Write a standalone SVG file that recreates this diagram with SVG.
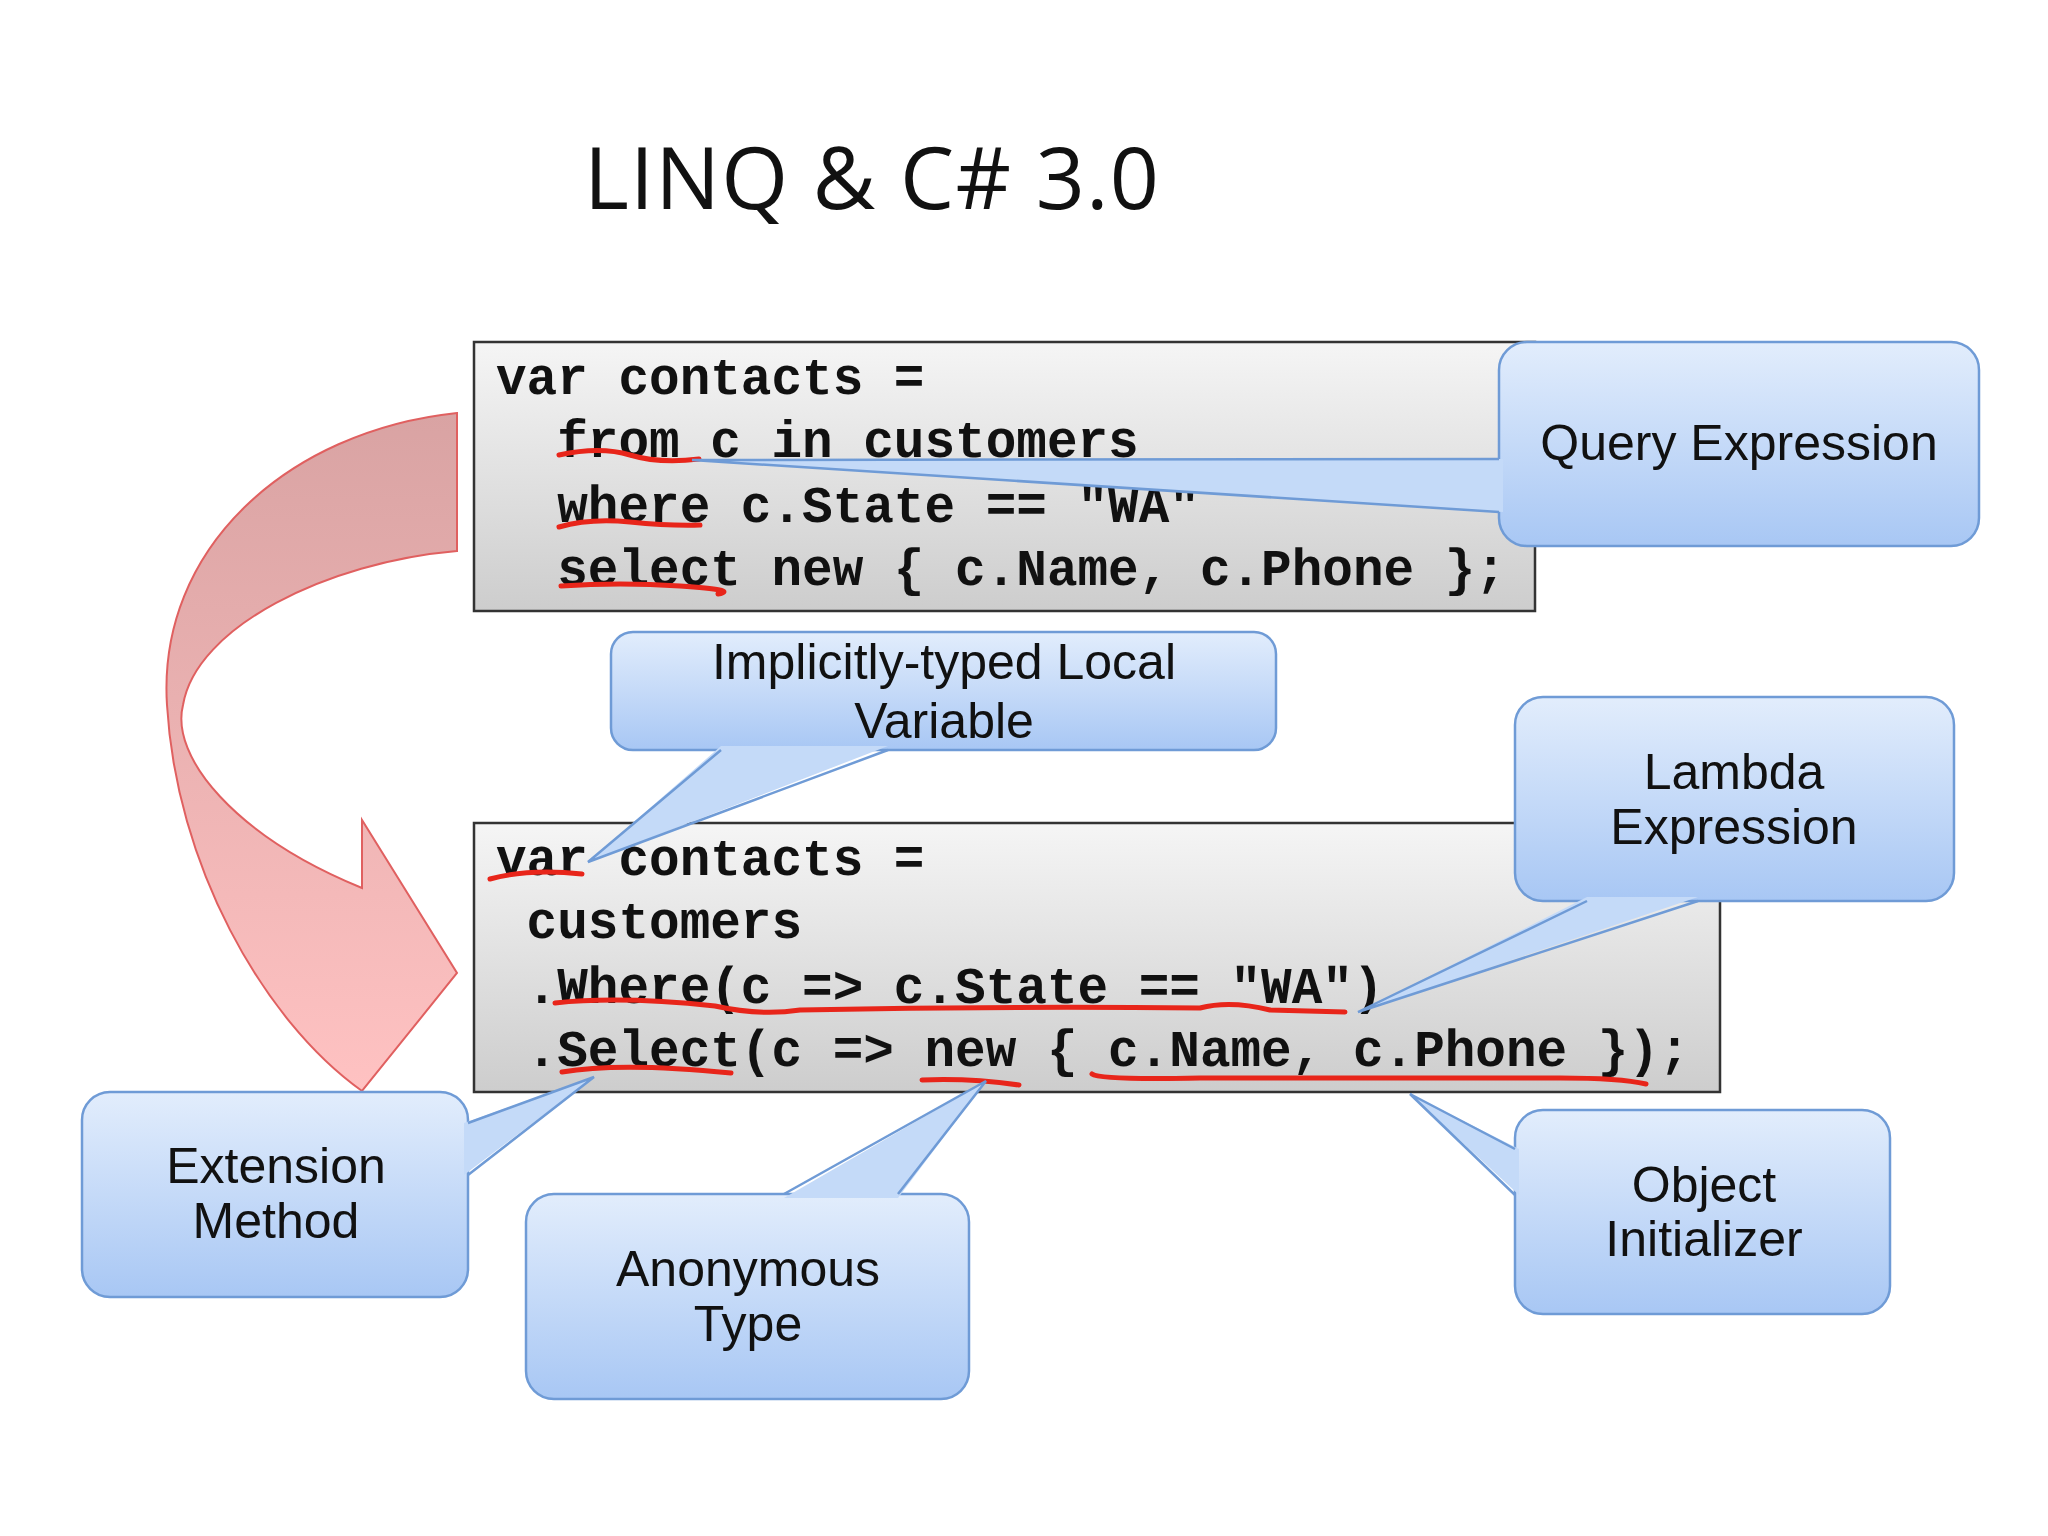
<svg xmlns="http://www.w3.org/2000/svg" width="2048" height="1536" viewBox="0 0 2048 1536">
<style>
.code{font-family:"Liberation Mono","Courier New",monospace;font-weight:bold;font-size:51px;fill:#111;white-space:pre}
.box{stroke:#333;stroke-width:2.5;fill:url(#gg)}
.co{fill:url(#bg);stroke:#6f9bd6;stroke-width:2.5}
.wf{fill:#c4daf8}
.ws{fill:none;stroke:#6f9bd6;stroke-width:2.5}
.lbl{font-family:"Liberation Sans",Arial,sans-serif;font-size:50px;fill:#111;text-anchor:middle}
.ul{fill:none;stroke:#e8251a;stroke-width:5;stroke-linecap:round}
</style>
<defs>
<linearGradient id="gg" x1="0" y1="0" x2="0" y2="1"><stop offset="0" stop-color="#f5f5f5"/><stop offset="1" stop-color="#cdcdcd"/></linearGradient>
<linearGradient id="bg" x1="0" y1="0" x2="0" y2="1"><stop offset="0" stop-color="#e2edfc"/><stop offset="1" stop-color="#a8c7f4"/></linearGradient>
<linearGradient id="rg" x1="0" y1="0" x2="0" y2="1"><stop offset="0" stop-color="#d9a3a3"/><stop offset="1" stop-color="#ffc2c2"/></linearGradient>
</defs>
<rect width="2048" height="1536" fill="#fff"/>
<text x="584" y="209" font-family="Open Sans,Liberation Sans,sans-serif" font-size="86" textLength="575" fill="#111">LINQ &amp; C# 3.0</text>

<g id="arrow">
<path d="M457,413 C287,431 157,549 167,705 C176,862 261,1019 362,1091 L362,1091 L457,973 L362,820 L362,888 C235,836 170,757 183,705 C196,627 327,562 457,551 Z" fill="url(#rg)" stroke="#e06060" stroke-width="2"/>
</g>

<g id="code1">
<rect class="box" x="474" y="342" width="1061" height="269"/>
<text class="code" x="496" y="394">var contacts =</text>
<text class="code" x="496" y="457">  from c in customers</text>
<text class="code" x="496" y="522">  where c.State == "WA"</text>
<text class="code" x="496" y="585">  select new { c.Name, c.Phone };</text>
<path class="ul" d="M559,455 Q600,446 630,455 T699,459"/>
<path class="ul" d="M559,527 Q590,518 630,522 T700,525"/>
<path class="ul" d="M561,586 Q620,582 680,586 T718,594"/>
</g>

<g id="code2">
<rect class="box" x="474" y="823" width="1246" height="269"/>
<text class="code" x="496" y="875">var contacts =</text>
<text class="code" x="496" y="938"> customers</text>
<text class="code" x="496" y="1003"> .Where(c =&gt; c.State == "WA")</text>
<text class="code" x="496" y="1066"> .Select(c =&gt; new { c.Name, c.Phone });</text>
<path class="ul" d="M490,879 Q530,868 582,874"/>
<path class="ul" d="M555,1003 Q620,996 715,1006 Q760,1016 800,1010 Q1000,1006 1200,1008 Q1230,1000 1270,1010 L1345,1012"/>
<path class="ul" d="M562,1072 Q620,1062 731,1073"/>
<path class="ul" d="M922,1080 Q970,1078 1019,1085"/>
<path class="ul" d="M1092,1074 Q1100,1080 1200,1078 L1560,1078 Q1620,1078 1646,1084"/>
</g>

<g id="c-query">
<rect class="co" x="1499" y="342" width="480" height="204" rx="28"/>
<polygon class="wf" points="1503,459 692,460 1503,512"/>
<polyline class="ws" points="1499,459 692,460 1499,512"/>
<text class="lbl" x="1739" y="460">Query Expression</text>
</g>
<g id="c-implicit">
<rect class="co" x="611" y="632" width="665" height="118" rx="22"/>
<polygon class="wf" points="721,746 588,862 888,746"/>
<polyline class="ws" points="721,750 588,862 888,750"/>
<text class="lbl" x="944" y="679">Implicitly-typed Local</text>
<text class="lbl" x="944" y="738">Variable</text>
</g>
<g id="c-lambda">
<rect class="co" x="1515" y="697" width="439" height="204" rx="28"/>
<polygon class="wf" points="1587,897 1358,1012 1698,897"/>
<polyline class="ws" points="1587,901 1358,1012 1698,901"/>
<text class="lbl" x="1734" y="789">Lambda</text>
<text class="lbl" x="1734" y="844">Expression</text>
</g>
<g id="c-ext">
<rect class="co" x="82" y="1092" width="386" height="205" rx="28"/>
<polygon class="wf" points="464,1123 594,1077 464,1175"/>
<polyline class="ws" points="468,1123 594,1077 468,1175"/>
<text class="lbl" x="276" y="1183">Extension</text>
<text class="lbl" x="276" y="1238">Method</text>
</g>
<g id="c-anon">
<rect class="co" x="526" y="1194" width="443" height="205" rx="28"/>
<polygon class="wf" points="784,1198 986,1081 898,1198"/>
<polyline class="ws" points="784,1194 986,1081 898,1194"/>
<text class="lbl" x="748" y="1286">Anonymous</text>
<text class="lbl" x="748" y="1341">Type</text>
</g>
<g id="c-obj">
<rect class="co" x="1515" y="1110" width="375" height="204" rx="28"/>
<polygon class="wf" points="1519,1149 1410,1094 1519,1195"/>
<polyline class="ws" points="1515,1149 1410,1094 1515,1195"/>
<text class="lbl" x="1704" y="1202">Object</text>
<text class="lbl" x="1704" y="1256">Initializer</text>
</g>
</svg>
